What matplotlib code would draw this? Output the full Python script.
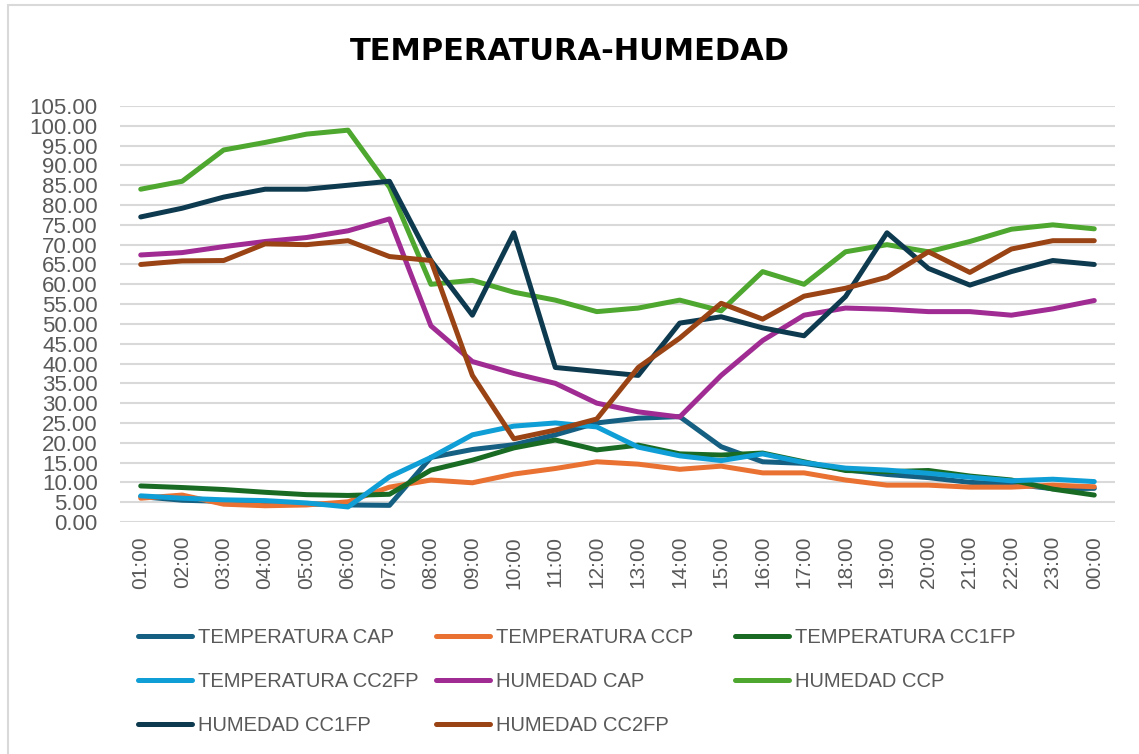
import matplotlib.pyplot as plt
from matplotlib.patches import Rectangle

hours = ['01:00', '02:00', '03:00', '04:00', '05:00', '06:00', '07:00', '08:00',
         '09:00', '10:00', '11:00', '12:00', '13:00', '14:00', '15:00', '16:00',
         '17:00', '18:00', '19:00', '20:00', '21:00', '22:00', '23:00', '00:00']

temp_cap = [6.4, 5.5, 5.2, 5.0, 4.6, 4.3, 4.2, 16.3, 18.3, 19.5, 22.0, 25.0,
            26.2, 26.6, 19.0, 15.2, 14.8, 13.2, 12.0, 11.2, 10.0, 9.6, 8.4, 8.5]
temp_ccp = [6.0, 6.8, 4.5, 4.1, 4.3, 5.1, 8.8, 10.6, 9.9, 12.1, 13.5, 15.2,
            14.6, 13.3, 14.1, 12.4, 12.4, 10.6, 9.3, 9.3, 8.8, 8.8, 9.3, 8.9]
temp_cc1fp = [9.1, 8.7, 8.2, 7.5, 6.9, 6.7, 7.0, 13.1, 15.6, 18.7, 20.7, 18.2,
              19.4, 17.2, 16.9, 17.4, 15.2, 13.0, 12.7, 13.0, 11.6, 10.6, 8.3, 6.8]
temp_cc2fp = [6.6, 6.0, 5.6, 5.4, 4.8, 3.8, 11.4, 16.3, 22.0, 24.2, 25.0, 24.0,
              18.9, 16.7, 15.5, 17.2, 15.0, 13.6, 13.1, 12.3, 11.3, 10.4, 10.8, 10.2]
hum_cap = [67.4, 68.0, 69.5, 70.8, 71.8, 73.5, 76.5, 49.5, 40.5, 37.5, 35.0, 30.0,
           27.8, 26.5, 37.0, 45.8, 52.2, 54.0, 53.7, 53.1, 53.1, 52.2, 53.8, 55.9]
hum_ccp = [84.0, 86.0, 93.9, 95.8, 97.9, 98.9, 84.5, 60.0, 61.0, 58.0, 56.0, 53.1,
           54.0, 56.0, 53.3, 63.2, 60.0, 68.2, 70.0, 68.2, 70.8, 73.9, 75.0, 74.0]
hum_cc1fp = [77.0, 79.2, 82.0, 84.0, 84.0, 85.0, 86.0, 66.0, 52.2, 73.0, 39.0, 38.0,
             37.0, 50.2, 51.8, 49.0, 47.0, 56.9, 73.0, 64.0, 59.8, 63.2, 66.0, 65.0]
hum_cc2fp = [65.0, 65.9, 66.0, 70.2, 70.0, 71.0, 67.0, 66.0, 37.0, 21.0, 23.2, 26.0,
             39.0, 46.4, 55.2, 51.2, 57.0, 59.0, 61.8, 68.2, 63.0, 68.9, 71.0, 71.0]

series = [
    ('TEMPERATURA CAP', temp_cap, '#156082'),
    ('TEMPERATURA CCP', temp_ccp, '#E97132'),
    ('TEMPERATURA CC1FP', temp_cc1fp, '#196B24'),
    ('TEMPERATURA CC2FP', temp_cc2fp, '#0F9ED5'),
    ('HUMEDAD CAP', hum_cap, '#A02B93'),
    ('HUMEDAD CCP', hum_ccp, '#4EA72E'),
    ('HUMEDAD CC1FP', hum_cc1fp, '#0E3A4F'),
    ('HUMEDAD CC2FP', hum_cc2fp, '#9A4314'),
]

plt.rcParams['font.family'] = ['Liberation Sans', 'DejaVu Sans']
gray = '#595959'

fig = plt.figure(figsize=(11.39, 7.54), dpi=100)
ax = fig.add_axes([120 / 1139, 232 / 754, 995 / 1139, 416 / 754])

x = range(len(hours))
lines = []
for name, vals, color in series:
    ln, = ax.plot(x, vals, color=color, lw=3.6, label=name,
                  solid_capstyle='round', solid_joinstyle='round')
    lines.append(ln)

ax.set_xlim(-0.5, len(hours) - 0.5)
ax.set_ylim(0, 105)
ax.set_yticks(range(0, 106, 5))
ax.set_yticklabels(['%.2f' % v for v in range(0, 106, 5)])
ax.set_xticks(list(x))
ax.set_xticklabels(hours, rotation=90)
ax.tick_params(axis='both', length=0, labelsize=15, colors=gray)
ax.tick_params(axis='y', labelsize=16, pad=16)
ax.tick_params(axis='x', pad=10)
ax.grid(axis='y', color='#D9D9D9', lw=1.5)
ax.set_axisbelow(True)
for s in ax.spines.values():
    s.set_visible(False)

fig.text(0.5, 1 - 51 / 754, 'TEMPERATURA-HUMEDAD', ha='center', va='center',
         fontsize=22, fontweight='bold', family='DejaVu Sans', color='black')

# legend laid out row by row, three columns of equal width
cols = [[0, 3, 6], [1, 4, 7], [2, 5]]
col_x = [130, 428, 727]
for xs, idx in zip(col_x, cols):
    fig.legend([lines[i] for i in idx], [series[i][0] for i in idx],
               loc='upper left', bbox_to_anchor=(xs / 1139, 1 - 620 / 754),
               frameon=False, fontsize=14.5, labelcolor=gray, handlelength=2.7,
               handletextpad=0.3, labelspacing=1.25, borderaxespad=0)

fig.patches.append(Rectangle((8 / 1139, -0.1), 1.2, 1 - 5 / 754 + 0.1,
                             transform=fig.transFigure, fill=False,
                             edgecolor='#D9D9D9', lw=1.5))

fig.savefig('out.png', dpi=100)
